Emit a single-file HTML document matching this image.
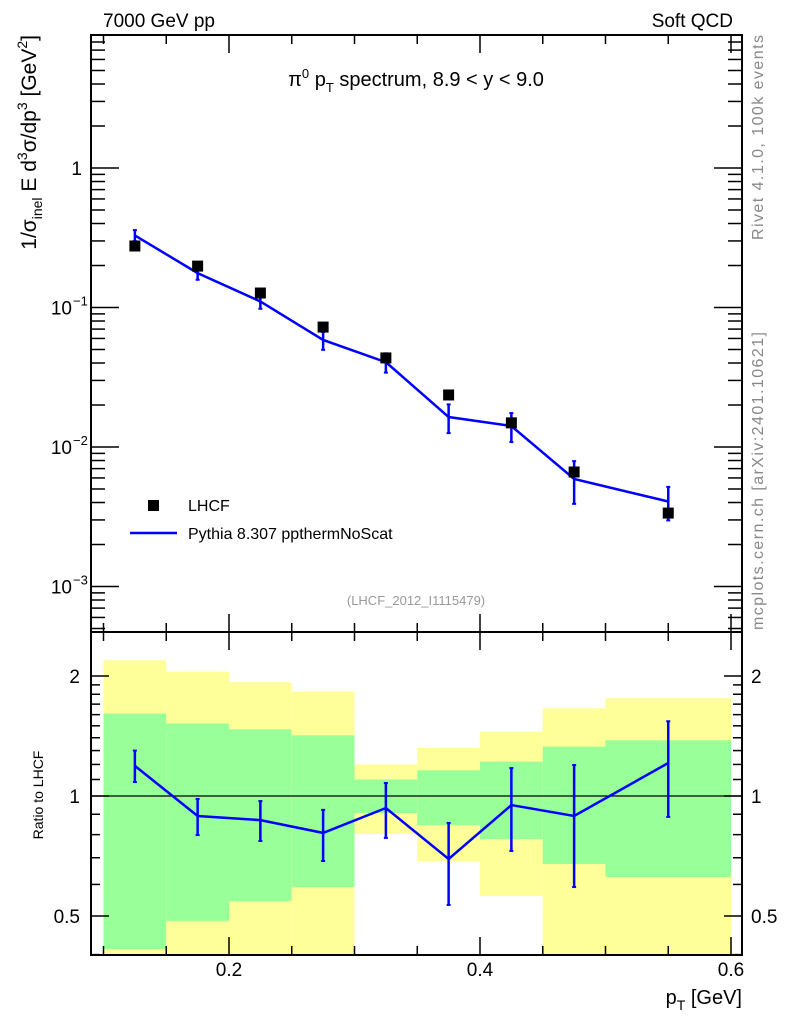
<!DOCTYPE html>
<html><head><meta charset="utf-8"><style>
body{margin:0;background:#fff;}
svg{display:block;font-family:"Liberation Sans",sans-serif;}
</style></head><body>
<svg id="c" width="786" height="1024" viewBox="0 0 786 1024"></svg>
<script>
const binEdges=[0.1,0.15,0.2,0.25,0.3,0.35,0.4,0.45,0.5,0.6];
const xCenters=[0.125,0.175,0.225,0.275,0.325,0.375,0.425,0.475,0.55];
const dataVals=[0.276,0.198,0.127,0.0724,0.0435,0.0236,0.0149,0.00662,0.00336];
const ratioVals=[1.19,0.891,0.870,0.808,0.933,0.695,0.949,0.891,1.21];
const ratioHi=[1.30,0.983,0.971,0.923,1.078,0.856,1.175,1.196,1.54];
const ratioLo=[1.084,0.798,0.771,0.687,0.785,0.533,0.728,0.591,0.886];
const yelTop=[2.19,2.05,1.93,1.83,1.20,1.32,1.45,1.66,1.76];
const yelBot=[0.3,0.3,0.3,0.3,0.803,0.687,0.561,0.3,0.3];
const grnTop=[1.61,1.52,1.47,1.42,1.10,1.16,1.22,1.33,1.38];
const grnBot=[0.413,0.486,0.545,0.591,0.906,0.846,0.780,0.675,0.626];
const upperTicks=[{v:1,t:"1"},{v:0.1,t:"10",e:"−1"},{v:0.01,t:"10",e:"−2"},{v:0.001,t:"10",e:"−3"}];
const ratioTickLabels=[0.5,1,2];
const xTickLabels=[0.2,0.4,0.6];

const L=91,R=742,T=35,M=632,B=955;
const X=v=>229+(v-0.2)*1255;
const YU=v=>168-Math.log10(v)*139.5;
const YR=v=>796-Math.log10(v)*398.6;
const svg=document.getElementById('c');
const NS='http://www.w3.org/2000/svg';
function mk(tag,attrs,parent){const e=document.createElementNS(NS,tag);for(const k in attrs)e.setAttribute(k,attrs[k]);(parent||svg).appendChild(e);return e;}
function clampR(v){return Math.min(B,Math.max(M,YR(v)));}

for(let i=0;i<9;i++){
  const x0=X(binEdges[i]),x1=X(binEdges[i+1]);
  const y=mk('rect',{x:x0,y:clampR(yelTop[i]),width:x1-x0,height:clampR(yelBot[i])-clampR(yelTop[i]),fill:'#ffff99'});
  
  
  const g=mk('rect',{x:x0,y:clampR(grnTop[i]),width:x1-x0,height:clampR(grnBot[i])-clampR(grnTop[i]),fill:'#99ff99'});
  
  
}
const one=mk('line',{x1:L,x2:R,y1:YR(1),y2:YR(1),stroke:'#000','stroke-width':1.2});



const f1=mk('rect',{x:L,y:T,width:R-L,height:M-T,fill:'none',stroke:'#000','stroke-width':2});


const f2=mk('rect',{x:L,y:M,width:R-L,height:B-M,fill:'none',stroke:'#000','stroke-width':2});



for(let k=0;k<=10;k++){
  const v=0.1+k*0.05; const x=X(v); const major=Math.abs((v*10)%2)<0.01||Math.abs((v*10)%2-2)<0.01;
  const len=major?18:9;
  [[T,1],[M,-1],[M,1],[B,-1]].forEach(([y0,d])=>mk('line',{x1:x,x2:x,y1:y0,y2:y0+d*len,stroke:'#000','stroke-width':1.5}));
}
xTickLabels.forEach(v=>{const t=mk('text',{x:X(v),y:976,'font-size':19,'text-anchor':'middle'});t.textContent=v.toFixed(1);

});

for(let d=-4;d<=0;d++){for(let m=1;m<=9;m++){const v=m*Math.pow(10,d);const y=YU(v);if(y<T||y>M)continue;const len=m===1?28:14;
mk('line',{x1:L,x2:L+len,y1:y,y2:y,stroke:'#000','stroke-width':1.5});mk('line',{x1:R,x2:R-len,y1:y,y2:y,stroke:'#000','stroke-width':1.5});}}
upperTicks.forEach(o=>{const t=mk('text',{x:o.e?72:82,y:YU(o.v)+7,'font-size':19,'text-anchor':'end'});t.textContent=o.t;


if(o.e){const s=mk('text',{x:73,y:YU(o.v)-2,'font-size':13});s.textContent=o.e;}});

[0.4,0.5,0.6,0.7,0.8,0.9,1,1.1,1.2,1.3,1.4,1.5,1.6,1.7,1.8,1.9,2].forEach(v=>{const y=YR(v);if(y<M||y>B)return;const len=[0.5,1,2].includes(v)?18:9;
mk('line',{x1:L,x2:L+len,y1:y,y2:y,stroke:'#000','stroke-width':1.5});mk('line',{x1:R,x2:R-len,y1:y,y2:y,stroke:'#000','stroke-width':1.5});});
ratioTickLabels.forEach(v=>{const y=YR(v)+7;
const a=mk('text',{x:80,y:y,'font-size':19,'text-anchor':'end'});a.textContent=String(v);


const b=mk('text',{x:751,y:y,'font-size':19});b.textContent=String(v);

});

const mc=dataVals.map((d,i)=>d*ratioVals[i]);
const pl=mk('polyline',{points:xCenters.map((x,i)=>X(x)+','+YU(mc[i])).join(' '),fill:'none',stroke:'#0000ff','stroke-width':2.5});


xCenters.forEach((x,i)=>{const px=X(x);const y1=YU(dataVals[i]*ratioHi[i]),y2=YU(dataVals[i]*ratioLo[i]);
const e=mk('line',{x1:px,x2:px,y1:y1,y2:y2,stroke:'#0000ff','stroke-width':2.5});


mk('line',{x1:px-2,x2:px+2,y1:y1,y2:y1,stroke:'#0000ff','stroke-width':2});mk('line',{x1:px-2,x2:px+2,y1:y2,y2:y2,stroke:'#0000ff','stroke-width':2});});
xCenters.forEach((x,i)=>{const r=mk('rect',{x:X(x)-5.5,y:YU(dataVals[i])-5.5,width:11,height:11,fill:'#000'});

});

const rl=mk('polyline',{points:xCenters.map((x,i)=>X(x)+','+YR(ratioVals[i])).join(' '),fill:'none',stroke:'#0000ff','stroke-width':2.5});


xCenters.forEach((x,i)=>{const px=X(x);const y1=YR(ratioHi[i]),y2=YR(ratioLo[i]);
const e=mk('line',{x1:px,x2:px,y1:y1,y2:y2,stroke:'#0000ff','stroke-width':2.5});


mk('line',{x1:px-2,x2:px+2,y1:y1,y2:y1,stroke:'#0000ff','stroke-width':2});mk('line',{x1:px-2,x2:px+2,y1:y2,y2:y2,stroke:'#0000ff','stroke-width':2});});
</script>
<svg width="786" height="1024" style="position:absolute;left:0;top:0" font-family="Liberation Sans, sans-serif">
<text x="103" y="27" font-size="19">7000 GeV pp</text>
<text x="733" y="27" font-size="19" text-anchor="end">Soft QCD</text>
<text x="416" y="86" font-size="20" text-anchor="middle">π<tspan dy="-8" font-size="13">0</tspan><tspan dy="8"> p</tspan><tspan dy="6" font-size="13">T</tspan><tspan dy="-6"> spectrum, 8.9 &lt; y &lt; 9.0</tspan></text>
<text x="416" y="605" font-size="13" fill="#999" text-anchor="middle">(LHCF_2012_I1115479)</text>
<rect x="148" y="500" width="11" height="11" fill="#000"/>
<text x="188" y="511" font-size="16">LHCF</text>
<line x1="130" x2="177" y1="533" y2="533" stroke="#0000ff" stroke-width="2.5"/>
<text x="188" y="539" font-size="16">Pythia 8.307 ppthermNoScat</text>
<text transform="translate(36,35) rotate(-90)" font-size="21" text-anchor="end">1/σ<tspan dy="6" font-size="14">inel</tspan><tspan dy="-6"> E d</tspan><tspan dy="-9" font-size="14">3</tspan><tspan dy="9">σ/dp</tspan><tspan dy="-9" font-size="14">3</tspan><tspan dy="9"> [GeV</tspan><tspan dy="-9" font-size="14">2</tspan><tspan dy="9">]</tspan></text>
<text transform="translate(43,795) rotate(-90)" font-size="14" text-anchor="middle">Ratio to LHCF</text>
<text x="742" y="1004" font-size="20" text-anchor="end">p<tspan dy="6" font-size="14">T</tspan><tspan dy="-6"> [GeV]</tspan></text>
<text transform="translate(763,35) rotate(-90)" font-size="16" fill="#888" text-anchor="end" textLength="205">Rivet 4.1.0,  100k events</text>
<text transform="translate(763,630) rotate(-90)" font-size="16" fill="#888" text-anchor="start" textLength="298">mcplots.cern.ch [arXiv:2401.10621]</text>
</svg>
</body></html>
